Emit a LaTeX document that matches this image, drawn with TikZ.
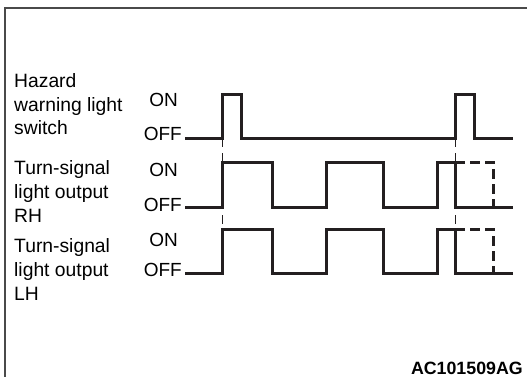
\documentclass[tikz,border=0pt]{standalone}
\usepackage{fontspec}
\setmainfont{Liberation Sans}
\usetikzlibrary{positioning}
\definecolor{ink}{HTML}{231F20}
\definecolor{framegray}{HTML}{4A4A4A}

\begin{document}
\begin{tikzpicture}[
x=1pt, y=-1pt,
lbl/.style={anchor=base west, align=left, inner sep=0pt, font=\fontsize{19.3}{23.8}\selectfont},
lvl/.style={anchor=base east, inner sep=0pt, font=\fontsize{19}{23}\selectfont},
wave/.style={line width=3pt, color=ink, line join=miter},
hold/.style={line width=3pt, color=ink, dash pattern=on 10pt off 5pt},
tickline/.style={line width=0.8pt, color=ink}
]
\useasboundingbox (0,0) rectangle (527,377);
\draw[framegray, line width=1.5pt] (5,377) -- (5,8) -- (527,8);

% signal names (base = last line)
\node[lbl] (hazard) at (14,135) {Hazard\\warning light\\switch};
\node[lbl] (rh) at (14,222) {Turn-signal\\light output\\RH};
\node[lbl] (lh) at (14,300) {Turn-signal\\light output\\LH};

% levels
\node[lvl] (hazon) at (178,107) {ON};
\node[lvl] (hazoff) at (182,140) {OFF};
\node[lvl] (rhon) at (178,176) {ON};
\node[lvl] (rhoff) at (182,211) {OFF};
\node[lvl] (lhon) at (178,246) {ON};
\node[lvl] (lhoff) at (182,276) {OFF};

% hazard warning light switch
\draw[wave] (185,138) -- (222,138) -- (222,95) -- (241,95) -- (241,138)
  -- (455,138) -- (455,95) -- (474,95) -- (474,138) -- (513,138);
% RH output
\draw[wave] (185,207) -- (222,207) -- (222,162) -- (272,162) -- (272,207)
  -- (326,207) -- (326,162) -- (383,162) -- (383,207) -- (437,207)
  -- (437,162) -- (455,162) -- (455,207) -- (513,207);
\draw[hold] (455,162) -- (493,162) -- (493,207);
% LH output
\draw[wave] (185,273) -- (222,273) -- (222,229) -- (272,229) -- (272,273)
  -- (326,273) -- (326,229) -- (383,229) -- (383,273) -- (437,273)
  -- (437,229) -- (455,229) -- (455,273) -- (513,273);
\draw[hold] (455,229) -- (493,229) -- (493,273);

% timing marks
\foreach \tx in {222,455} {
  \draw[tickline] (\tx,138) -- (\tx,147);
  \draw[tickline] (\tx,153) -- (\tx,162);
  \draw[tickline] (\tx,215) -- (\tx,224);
}

\node[anchor=base east, inner sep=0pt, font=\bfseries\fontsize{17.8}{20}\selectfont] (figno) at (523,374) {AC101509AG};
\end{tikzpicture}
\end{document}
